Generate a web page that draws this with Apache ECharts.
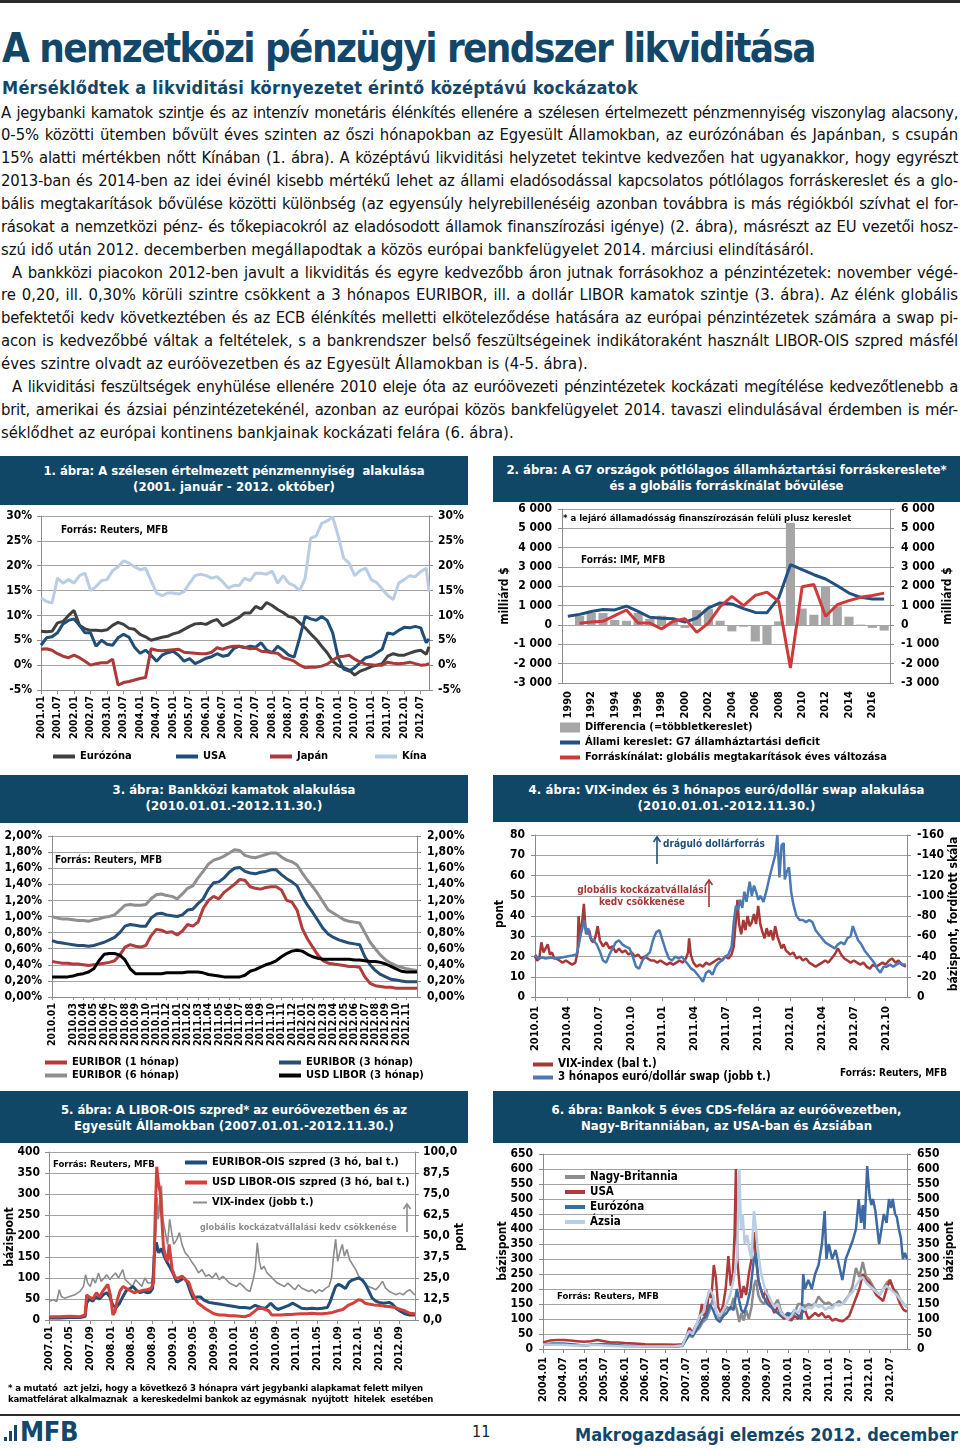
<!DOCTYPE html>
<html><head><meta charset="utf-8">
<script src="https://cdn.jsdelivr.net/npm/echarts@6/dist/echarts.min.js"></script>
<style>
html,body{margin:0;padding:0;background:#fff;}
#page{position:relative;width:960px;height:1450px;overflow:hidden;font-family:'DejaVu Sans Condensed','DejaVu Sans',sans-serif;color:#111;}
.rule{position:absolute;left:0;width:960px;background:#2b2b2b;}
.h1{position:absolute;left:2px;top:24px;font-size:40px;line-height:48px;font-weight:bold;color:#12476a;white-space:nowrap;}
.h2{position:absolute;left:2px;top:77px;font-size:18px;line-height:22px;font-weight:bold;color:#12476a;white-space:nowrap;}
#body{position:absolute;left:1px;top:101.5px;width:957px;}
.ln{height:22.86px;line-height:22.86px;font-size:16.5px;white-space:nowrap;}
.ln span{white-space:nowrap;}
.banner{position:absolute;background:#114766;color:#fff;font-weight:bold;font-size:13px;text-align:center;}
.banner div{line-height:16px;white-space:nowrap;}
.banner span{white-space:nowrap;}
.chart{position:absolute;}
.note{position:absolute;left:8px;font-size:9.5px;font-weight:bold;line-height:11px;white-space:nowrap;color:#000;}
.foot{position:absolute;white-space:nowrap;}
</style></head>
<body><div id="page">
<div class="rule" style="top:0;height:3px"></div>
<div class="h1"><span data-w="813">A nemzetközi pénzügyi rendszer likviditása</span></div>
<div class="h2"><span data-w="636">Mérséklődtek a likviditási környezetet érintő középtávú kockázatok</span></div>
<div id="body"></div>

<div class="banner" style="left:0;top:456px;width:468px;height:49px;padding-top:7px;box-sizing:border-box"><div><span data-w="381">1. ábra: A szélesen értelmezett pénzmennyiség&nbsp; alakulása</span></div><div><span data-w="202">(2001. január - 2012. október)</span></div></div>
<div class="banner" style="left:493px;top:456px;width:467px;height:46px;padding-top:6px;box-sizing:border-box"><div><span data-w="440">2. ábra: A G7 országok pótlólagos államháztartási forráskereslete*</span></div><div><span data-w="234">és a globális forráskínálat bővülése</span></div></div>
<div class="banner" style="left:0;top:775px;width:468px;height:48px;padding-top:7px;box-sizing:border-box"><div><span data-w="243">3. ábra: Bankközi kamatok alakulása</span></div><div><span data-w="177">(2010.01.01.-2012.11.30.)</span></div></div>
<div class="banner" style="left:493px;top:775px;width:467px;height:47px;padding-top:7px;box-sizing:border-box"><div><span data-w="396">4. ábra: VIX-index és 3 hónapos euró/dollár swap alakulása</span></div><div><span data-w="178">(2010.01.01.-2012.11.30.)</span></div></div>
<div class="banner" style="left:0;top:1091px;width:468px;height:52px;padding-top:11px;box-sizing:border-box"><div><span data-w="346">5. ábra: A LIBOR-OIS szpred* az euróövezetben és az</span></div><div><span data-w="320">Egyesült Államokban (2007.01.01.-2012.11.30.)</span></div></div>
<div class="banner" style="left:493px;top:1091px;width:467px;height:52px;padding-top:11px;box-sizing:border-box"><div><span data-w="350">6. ábra: Bankok 5 éves CDS-felára az euróövezetben,</span></div><div><span data-w="291">Nagy-Britanniában, az USA-ban és Ázsiában</span></div></div>

<div id="c1" class="chart" style="left:0;top:505px;width:470px;height:265px"></div>
<div id="c2" class="chart" style="left:490px;top:502px;width:470px;height:268px"></div>
<div id="c3" class="chart" style="left:0;top:823px;width:470px;height:262px"></div>
<div id="c4" class="chart" style="left:490px;top:822px;width:470px;height:263px"></div>
<div id="c5" class="chart" style="left:0;top:1143px;width:470px;height:240px"></div>
<div id="c6" class="chart" style="left:490px;top:1143px;width:470px;height:265px"></div>

<div class="note" style="top:1382px"><span data-w="415">* a mutató&nbsp; azt jelzi, hogy a következő 3 hónapra várt jegybanki alapkamat felett milyen</span></div>
<div class="note" style="top:1393px"><span data-w="425">kamatfelárat alkalmaznak&nbsp; a kereskedelmi bankok az egymásnak&nbsp; nyújtott&nbsp; hitelek&nbsp; esetében</span></div>

<div class="rule" style="top:1414px;height:2px"></div>
<div class="foot" style="left:4px;top:1437px;width:3px;height:4px;background:#12476a"></div>
<div class="foot" style="left:9px;top:1431px;width:3px;height:10px;background:#12476a"></div>
<div class="foot" style="left:14px;top:1425px;width:3px;height:16px;background:#12476a"></div>
<div class="foot" style="left:20px;top:1417px;font-size:27px;line-height:30px;font-weight:bold;color:#12476a"><span data-w="58">MFB</span></div>
<div class="foot" style="left:472px;top:1423px;font-size:16px;line-height:18px;color:#222">11</div>
<div class="foot" style="left:575px;top:1424px;font-size:18px;line-height:22px;font-weight:bold;color:#12476a"><span data-w="383">Makrogazdasági elemzés 2012. december</span></div>
</div>
<script>
// ---------------- body text ----------------
const BODY_LINES = [
 ["A jegybanki kamatok szintje és az intenzív monetáris élénkítés ellenére a szélesen értelmezett pénzmennyiség viszonylag alacsony,","j"],
 ["0-5% közötti ütemben bővült éves szinten az őszi hónapokban az Egyesült Államokban, az eurózónában és Japánban, s csupán","j"],
 ["15% alatti mértékben nőtt Kínában (1. ábra). A középtávú likviditási helyzetet tekintve kedvezően hat ugyanakkor, hogy egyrészt","j"],
 ["2013-ban és 2014-ben az idei évinél kisebb mértékű lehet az állami eladósodással kapcsolatos pótlólagos forráskereslet és a glo-","j"],
 ["bális megtakarítások bővülése közötti különbség (az egyensúly helyrebillenéséig azonban továbbra is más régiókból szívhat el for-","j"],
 ["rásokat a nemzetközi pénz- és tőkepiacokról az eladósodott államok finanszírozási igénye) (2. ábra), másrészt az EU vezetői hosz-","j"],
 ["szú idő után 2012. decemberben megállapodtak a közös európai bankfelügyelet 2014. márciusi elindításáról.","l"],
 ["A bankközi piacokon 2012-ben javult a likviditás és egyre kedvezőbb áron jutnak forrásokhoz a pénzintézetek: november végé-","ji"],
 ["re 0,20, ill. 0,30% körüli szintre csökkent a 3 hónapos EURIBOR, ill. a dollár LIBOR kamatok szintje (3. ábra). Az élénk globális","j"],
 ["befektetői kedv következtében és az ECB élénkítés melletti elköteleződése hatására az európai pénzintézetek számára a swap pi-","j"],
 ["acon is kedvezőbbé váltak a feltételek, s a bankrendszer belső feszültségeinek indikátoraként használt LIBOR-OIS szpred másfél","j"],
 ["éves szintre olvadt az euróövezetben és az Egyesült Államokban is (4-5. ábra).","l"],
 ["A likviditási feszültségek enyhülése ellenére 2010 eleje óta az euróövezeti pénzintézetek kockázati megítélése kedvezőtlenebb a","ji"],
 ["brit, amerikai és ázsiai pénzintézetekénél, azonban az európai közös bankfelügyelet 2014. tavaszi elindulásával érdemben is mér-","j"],
 ["séklődhet az európai kontinens bankjainak kockázati felára (6. ábra).","l"]
];
const bodyEl = document.getElementById('body');
BODY_LINES.forEach(([t,m])=>{
  const d=document.createElement('div'); d.className='ln';
  if(m==='ji') d.style.paddingLeft='11px';
  const s=document.createElement('span'); s.textContent=t; d.appendChild(s);
  d.dataset.mode=m; bodyEl.appendChild(d);
});
function fitText(){
  document.querySelectorAll('.ln').forEach(d=>{
    const s=d.firstChild; const m=d.dataset.mode;
    const width = 957 - (m==='ji'?11:0);
    s.style.letterSpacing='0px'; s.style.wordSpacing='0px';
    let w=s.getBoundingClientRect().width;
    if(w>width-20){ s.style.letterSpacing=((width-20-w)/s.textContent.length)+'px'; w=s.getBoundingClientRect().width; }
    if(m!=='l'){ const n=(s.textContent.match(/ /g)||[]).length; if(n) s.style.wordSpacing=((width-w)/n)+'px'; }
  });
  document.querySelectorAll('[data-w]').forEach(el=>{
    el.style.letterSpacing='0px';
    const w=el.getBoundingClientRect().width; const n=el.textContent.length;
    el.style.letterSpacing=((+el.dataset.w - w)/n)+'px';
  });
}
fitText();

// ---------------- common helpers ----------------
const F = "'DejaVu Sans Condensed','DejaVu Sans',sans-serif";
const GRC='#a3a3a3', AXC='#8c8c8c';
function merge(a,b){for(const k in b){const v=b[k]; if(v&&typeof v==='object'&&!Array.isArray(v)&&a[k]&&typeof a[k]==='object'&&!Array.isArray(a[k])) merge(a[k],v); else a[k]=v;} return a;}
function grid(l,t,w,h){return {left:l,top:t,width:w,height:h,outerBoundsMode:'none',containLabel:false};}
function yAx(o){return merge({type:'value',axisLine:{show:true,lineStyle:{color:AXC}},axisTick:{show:true,length:4,lineStyle:{color:AXC}},splitLine:{show:false,lineStyle:{color:GRC,width:1}},axisLabel:{color:'#000',fontFamily:F,fontWeight:'bold',fontSize:12}},o);}
function xAx(o){return merge({axisLine:{show:true,onZero:false,lineStyle:{color:AXC}},axisTick:{show:true,length:4,lineStyle:{color:AXC}},splitLine:{show:false},axisLabel:{rotate:90,color:'#000',fontFamily:F,fontWeight:'bold',fontSize:10.5,showMinLabel:true}},o);}
function ln(name,data,color,w,yi){return {type:'line',name,data,yAxisIndex:yi||0,symbol:'none',showSymbol:false,lineStyle:{color,width:w||3},itemStyle:{color},silent:true,z:3};}
function leg(name,left,top,o){o=o||{};return {data:[name],left,top,padding:0,itemGap:0,itemWidth:o.w||22,itemHeight:o.h||4,icon:'rect',selectedMode:false,textStyle:{color:'#000',fontFamily:F,fontWeight:'bold',fontSize:o.fs||11}};}
function txt(t,x,y,o){o=o||{};return {type:'text',x,y,z:10,rotation:o.rot||0,style:{text:t,fill:o.c||'#000',font:'bold '+(o.fs||10)+'px '+F,align:o.align||'left',verticalAlign:'middle',textAlign:o.align||'left',textVerticalAlign:'middle'}};}
function vname(t,x,y){return txt(t,x,y,{rot:Math.PI/2,align:'center',fs:12});}   // axis title reading bottom-to-top
function arrow(x,y1,y2,c){return [{type:'line',z:10,shape:{x1:x,y1:y1,x2:x,y2:y2+1},style:{stroke:c,lineWidth:1.6}},{type:'polyline',z:10,shape:{points:[[x-3.5,y2+5],[x,y2],[x+3.5,y2+5]]},style:{stroke:c,lineWidth:1.6,fill:null}}];}
function monthLabels(y,m,count){const a=[];for(let i=0;i<count;i++){a.push(y+'.'+String(m).padStart(2,'0'));m++;if(m>12){m=1;y++;}}return a;}
function init(id){return echarts.init(document.getElementById(id),null,{renderer:'canvas'});}
function pairs(xs,ys){return ys.map((v,i)=>[xs[i],v]);}

// ================= Chart 1: broad money growth (bi-monthly readings, %) =================
const C1_MONTHS = monthLabels(2001,1,142);            // 2001.01 .. 2012.10
const C1_SAMPLE_MONTH = [];                            // month index of each reading
for(let i=0;i<71;i++) C1_SAMPLE_MONTH.push(i*2); C1_SAMPLE_MONTH.push(141);
const EUROZONE_M = [6.8,6.7,6.8,8.5,8.8,10.0, 11.0,8.0,7.3,7.0,7.0,6.9, 7.1,8.0,8.6,8.2,7.4,7.2, 6.2,5.7,5.0,5.3,5.6,5.8, 6.3,6.6,7.2,7.8,8.3,8.4, 8.2,8.8,9.2,7.9,8.4,9.0, 9.6,10.5,10.5,11.8,11.3,12.6, 12.0,11.2,10.6,9.8,9.5,8.5, 7.5,6.3,5.2,3.8,2.5,0.8, -0.1,-0.5,-1.0,-2.0,-1.2,-0.8, -0.3,0.0,0.3,1.8,2.3,2.0, 2.0,2.4,2.8,3.0,2.2,3.7];
const USA_M = [4.0,5.5,5.7,6.5,8.3,9.0, 9.3,8.0,6.5,6.5,3.8,5.0, 4.2,4.0,5.5,6.2,5.6,3.6, 2.4,3.0,2.0,0.8,2.0,2.5, 2.8,2.0,0.8,1.3,0.3,0.8, 1.4,1.7,2.3,1.8,2.0,3.3, 3.8,3.5,3.8,3.6,4.5,3.0, 2.5,3.8,3.0,2.0,1.6,5.5, 9.8,9.3,9.0,9.8,9.0,6.5, 1.5,-0.8,-1.2,-0.5,0.5,1.5, 1.8,2.5,3.2,6.5,6.2,7.0, 7.6,7.5,7.8,7.5,4.5,5.3];
const JAPAN_M = [3.2,3.3,3.0,2.3,1.8,1.5, 2.0,1.5,0.8,0.0,0.3,0.5, 0.5,1.2,-4.0,-3.5,-3.3,-3.0, -2.7,-2.5,3.3,3.0,2.9,3.0, 3.1,3.2,2.6,2.5,2.4,2.3, 2.3,2.6,3.5,3.2,3.6,3.8, 3.8,3.6,3.3,3.4,2.8,2.7, 2.5,2.4,1.5,1.2,0.8,0.0, -0.5,-0.4,-0.4,-0.2,0.2,1.0, 1.7,1.8,2.0,1.2,0.6,0.2, 0.1,0.0,0.0,0.6,0.4,0.3, 0.4,0.6,0.3,0.0,0.1,0.3];
const CHINA_M = [13.5,12.8,12.5,17.5,16.5,17.2, 16.5,18.0,18.5,15.0,15.8,17.0, 17.2,19.0,19.8,21.0,20.5,19.8, 19.2,19.5,17.0,14.5,14.0,14.5, 14.5,14.3,14.8,16.5,18.0,18.3, 18.0,17.5,17.8,16.8,15.5,16.0, 16.0,17.5,17.0,18.5,18.5,18.3, 18.9,16.5,18.0,16.5,16.0,15.0, 17.5,25.5,26.0,28.5,29.0,29.8, 26.0,21.5,20.5,18.0,19.0,19.5, 17.2,16.6,15.3,14.0,13.2,16.5, 17.2,18.0,17.8,18.8,19.5,14.8];
const C1_TICKS = [-5,30,5];
{
 const pct=v=>v+'%';
 init('c1').setOption({animation:false,
  grid:grid(41,11,388,174),
  xAxis:xAx({type:'category',data:C1_MONTHS,boundaryGap:false,axisTick:{interval:5},axisLabel:{interval:5,margin:6}}),
  yAxis:[yAx({min:C1_TICKS[0],max:C1_TICKS[1],interval:C1_TICKS[2],splitLine:{show:true},axisLabel:{formatter:pct,margin:9}}),
         yAx({min:C1_TICKS[0],max:C1_TICKS[1],interval:C1_TICKS[2],position:'right',axisLabel:{formatter:pct,margin:9}})],
  legend:[leg('Eurózóna',53,246),leg('USA',176,246),leg('Japán',270,246),leg('Kína',375,246)],
  graphic:[txt('Forrás: Reuters, MFB',61,25)],
  series:[ln('Kína',pairs(C1_SAMPLE_MONTH,CHINA_M),'#b9cde5'),
          ln('Eurózóna',pairs(C1_SAMPLE_MONTH,EUROZONE_M),'#404040'),
          ln('USA',pairs(C1_SAMPLE_MONTH,USA_M),'#1f4e79'),
          ln('Japán',pairs(C1_SAMPLE_MONTH,JAPAN_M),'#a93a3a')]
 });
}

// ================= Chart 2: G7 deficit vs global savings (bn USD) =================
const YEARS2 = ['1990','1991','1992','1993','1994','1995','1996','1997','1998','1999','2000','2001','2002','2003','2004','2005','2006','2007','2008','2009','2010','2011','2012','2013','2014','2015','2016','2017'];
const DIFF2 = [null,480,620,620,260,220,620,310,480,190,-150,775,845,220,-330,-90,-850,-1000,190,5280,850,530,2000,970,430,20,-150,-290];
const DEMAND2 = [450,550,700,800,780,980,700,400,350,320,150,360,880,1140,1090,850,650,640,1400,3120,2860,2600,2380,2030,1650,1430,1340,1340];
const SUPPLY2 = [null,90,155,190,480,775,100,100,-200,190,330,-380,100,950,1480,1000,1530,1700,1220,-2220,1980,2090,450,1050,1260,1430,1530,1650];
{
 const th=v=>{const s=String(Math.abs(v));return (v<0?'-':'')+(s.length>3?s.slice(0,-3)+' '+s.slice(-3):s);};
 init('c2').setOption({animation:false,
  grid:grid(72,7,328,174),
  xAxis:xAx({type:'category',data:YEARS2,boundaryGap:true,axisTick:{show:false},axisLabel:{interval:1,margin:8,fontSize:11}}),
  yAxis:[yAx({min:-3000,max:6000,interval:1000,splitLine:{show:true},axisLabel:{formatter:th,margin:10}}),
         yAx({min:-3000,max:6000,interval:1000,position:'right',axisLabel:{formatter:th,margin:11}})],
  legend:[leg('Differencia (=többletkereslet)',70,220,{h:10,w:20,fs:11}),
          leg('Állami kereslet: G7 államháztartási deficit',70,235,{w:20,fs:11}),
          leg('Forráskínálat: globális megtakarítások éves változása',70,250,{w:20,fs:11})],
  graphic:[txt('* a lejáró államadósság finanszírozásán felüli plusz kereslet',73,17,{fs:9.5}),
           txt('Forrás: IMF, MFB',91,58), vname('milliárd $',15,94), vname('milliárd $',458,94)],
  series:[{type:'bar',name:'Differencia (=többletkereslet)',data:DIFF2,barCategoryGap:'22%',itemStyle:{color:'#a6a6a6'},silent:true},
          ln('Állami kereslet: G7 államháztartási deficit',DEMAND2,'#215081',3),
          ln('Forráskínálat: globális megtakarítások éves változása',SUPPLY2,'#d0393a',3)]
 });
}

// ================= Chart 3: interbank rates (half-monthly readings, %) =================
const C3_LABELS = monthLabels(2010,1,35);  // 2010.01 .. 2012.11
const C3_T = []; for(let k=0;k<=70;k++) C3_T.push(k/2);   // months since 2010.01
const EURIBOR_1M = [.44,.43,.42,.42,.41,.41,.40,.39,.40,.41, .42,.43,.45,.52,.62,.65,.63,.62,.64,.76, .84,.83,.80,.81,.77,.82,.90,.88,.93,1.10, 1.20,1.25,1.22,1.30,1.35,1.40,1.46,1.45,1.37,1.35, 1.34,1.36,1.37,1.37,1.33,1.20,1.18,1.08,.85,.72, .62,.52,.45,.42,.41,.40,.39,.38,.38,.37, .25,.17,.14,.13,.12,.12,.11,.11,.11,.11, .11];
const EURIBOR_3M = [.70,.68,.67,.66,.65,.64,.64,.63,.64,.66, .68,.71,.74,.80,.88,.90,.89,.88,.88,.98, 1.03,1.04,1.02,1.01,1.00,1.02,1.08,1.09,1.16,1.22, 1.34,1.42,1.43,1.48,1.55,1.60,1.61,1.56,1.54,1.53, 1.55,1.56,1.58,1.58,1.52,1.47,1.43,1.38,1.25,1.14, 1.05,.95,.85,.78,.74,.71,.69,.67,.66,.65, .50,.40,.33,.28,.25,.22,.21,.20,.19,.19, .19];
const EURIBOR_6M = [1.00,.98,.97,.97,.96,.95,.95,.94,.96,.97, .99,1.00,1.02,1.08,1.14,1.15,1.14,1.14,1.15,1.22, 1.27,1.28,1.26,1.25,1.22,1.28,1.35,1.38,1.48,1.56, 1.65,1.70,1.72,1.75,1.79,1.83,1.82,1.76,1.74,1.73, 1.75,1.77,1.79,1.79,1.74,1.70,1.68,1.64,1.54,1.45, 1.37,1.28,1.18,1.08,1.04,1.00,.96,.94,.93,.92, .80,.68,.60,.52,.46,.42,.39,.37,.35,.34, .33];
const USD_LIBOR_3M = [.25,.25,.25,.25,.26,.28,.29,.31,.35,.45, .53,.54,.54,.52,.46,.35,.29,.29,.29,.29, .29,.29,.30,.30,.30,.30,.31,.31,.31,.30, .28,.27,.26,.25,.25,.25,.25,.27,.32,.34, .37,.40,.42,.45,.50,.54,.57,.58,.57,.53, .50,.48,.47,.47,.47,.47,.47,.47,.46,.46, .45,.44,.44,.43,.41,.38,.35,.32,.31,.31, .31];
{
 const pf=v=>v.toFixed(2).replace('.',',')+'%';
 init('c3').setOption({animation:false,
  grid:grid(52,13,365,161),
  xAxis:xAx({type:'value',min:0,max:35,interval:1,axisTick:{length:3},axisLabel:{formatter:v=>C3_LABELS[v]||'',margin:6,showMaxLabel:false}}),
  yAxis:[yAx({min:0,max:2,interval:0.2,splitLine:{show:true},axisLabel:{formatter:pf,margin:10}}),
         yAx({min:0,max:2,interval:0.2,position:'right',axisLabel:{formatter:pf,margin:10}})],
  legend:[leg('EURIBOR (1 hónap)',45,234),leg('EURIBOR (6 hónap)',45,247),leg('EURIBOR (3 hónap)',279,234),leg('USD LIBOR (3 hónap)',279,247)],
  graphic:[txt('Forrás: Reuters, MFB',55,37)],
  series:[ln('EURIBOR (6 hónap)',pairs(C3_T,EURIBOR_6M),'#8f8f8f'),
          ln('EURIBOR (3 hónap)',pairs(C3_T,EURIBOR_3M),'#254e78'),
          ln('EURIBOR (1 hónap)',pairs(C3_T,EURIBOR_1M),'#b03c3c'),
          ln('USD LIBOR (3 hónap)',pairs(C3_T,USD_LIBOR_3M),'#000000')]
 });
}

// ================= Chart 4: VIX and 3M EUR/USD swap (t = months since 2010.01) =================
const C4_LABELS = ['2010.01','2010.04','2010.07','2010.10','2011.01','2011.04','2011.07','2011.10','2012.01','2012.04','2012.07','2012.10'];
const VIX4 = [[0,20],[0.2,18],[0.4,19],[0.6,27],[0.8,22],[1,24],[1.2,26],[1.4,21],[1.6,22],[1.8,19],[2,19],[2.3,18],[2.6,17],[2.9,18],[3.2,17],[3.5,16],[3.8,17],[4,22],[4.1,40],[4.25,30],[4.4,35],[4.6,46],[4.75,34],[4.9,31],[5.1,33],[5.3,28],[5.5,27],[5.7,30],[5.9,35],[6.1,28],[6.4,25],[6.7,27],[7,24],[7.3,25],[7.6,22],[7.9,24],[8.2,22],[8.5,23],[8.8,21],[9.1,22],[9.4,20],[9.7,21],[10,19],[10.3,20],[10.6,19],[10.9,18],[11.2,18],[11.5,17],[11.8,18],[12.1,17],[12.4,16],[12.7,17],[13,16],[13.3,17],[13.6,18],[13.9,17],[14.2,19],[14.4,22],[14.5,29],[14.65,21],[14.9,17],[15.2,15],[15.5,16],[15.8,15],[16.1,17],[16.4,16],[16.7,17],[17,18],[17.3,19],[17.6,18],[17.9,20],[18.2,19],[18.5,21],[18.7,25],[18.9,38],[19.05,48],[19.2,36],[19.4,31],[19.6,38],[19.8,33],[20,40],[20.2,35],[20.4,37],[20.6,41],[20.8,36],[21,45],[21.2,36],[21.4,32],[21.6,29],[21.8,34],[22,30],[22.2,33],[22.4,28],[22.6,35],[22.8,30],[23,27],[23.2,24],[23.4,26],[23.6,23],[23.8,22],[24,21],[24.3,22],[24.6,19],[24.9,20],[25.2,18],[25.5,19],[25.8,17],[26.1,16],[26.4,15],[26.7,16],[27,17],[27.3,18],[27.6,17],[27.9,19],[28.2,21],[28.5,24],[28.8,21],[29.1,19],[29.4,18],[29.7,17],[30,18],[30.3,17],[30.6,16],[30.9,17],[31.2,15],[31.5,14],[31.8,16],[32.1,15],[32.4,16],[32.7,17],[33,16],[33.3,18],[33.6,19],[33.9,17],[34.2,18],[34.5,16],[34.9,15]];
const SWAP4 = [[0,-42],[0.3,-38],[0.7,-39],[1,-38],[1.5,-39],[2,-38],[2.5,-39],[3,-40],[3.5,-41],[3.9,-42],[4.1,-50],[4.3,-62],[4.5,-70],[4.65,-76],[4.8,-62],[5,-68],[5.2,-58],[5.5,-56],[5.8,-52],[6.1,-45],[6.4,-36],[6.7,-34],[7,-42],[7.3,-48],[7.6,-54],[7.9,-56],[8.2,-52],[8.5,-50],[8.9,-48],[9.2,-40],[9.5,-30],[9.8,-28],[10.1,-36],[10.4,-40],[10.8,-44],[11.1,-56],[11.4,-64],[11.7,-66],[12,-56],[12.3,-46],[12.6,-38],[12.9,-36],[13.2,-40],[13.5,-38],[13.8,-40],[14.1,-36],[14.4,-32],[14.7,-28],[15,-26],[15.3,-22],[15.6,-18],[15.8,-15],[16.1,-24],[16.4,-26],[16.7,-22],[17,-30],[17.3,-34],[17.6,-36],[17.9,-40],[18.2,-42],[18.5,-50],[18.7,-74],[18.9,-90],[19.1,-86],[19.3,-96],[19.5,-88],[19.7,-104],[19.9,-94],[20.2,-114],[20.4,-100],[20.6,-110],[20.8,-104],[21,-96],[21.2,-100],[21.5,-94],[21.8,-106],[22.1,-120],[22.4,-132],[22.6,-140],[22.8,-160],[23,-118],[23.2,-150],[23.4,-152],[23.5,-116],[23.7,-124],[23.9,-128],[24.1,-104],[24.3,-92],[24.6,-80],[24.9,-76],[25.2,-76],[25.5,-74],[25.8,-76],[26.1,-74],[26.4,-66],[26.7,-62],[27,-58],[27.3,-54],[27.6,-52],[27.9,-50],[28.2,-48],[28.5,-52],[28.8,-54],[29.1,-52],[29.4,-58],[29.7,-60],[29.9,-70],[30.1,-64],[30.4,-56],[30.7,-52],[31,-46],[31.3,-42],[31.6,-38],[31.9,-34],[32.2,-28],[32.5,-24],[32.8,-30],[33.1,-30],[33.4,-32],[33.7,-30],[34,-32],[34.3,-34],[34.6,-32],[34.9,-32]];
{
 init('c4').setOption({animation:false,
  grid:grid(45,13,372,162),
  xAxis:xAx({type:'value',min:0,max:35,interval:3,axisLabel:{formatter:v=>C4_LABELS[v/3]||'',margin:9,fontSize:11,showMaxLabel:false}}),
  yAxis:[yAx({min:0,max:80,interval:10,splitLine:{show:true},axisLabel:{margin:10}}),
         yAx({min:-160,max:0,interval:20,inverse:true,position:'right',axisLabel:{margin:10}})],
  legend:[leg('VIX-index (bal t.)',43,236.5,{w:20,fs:11.5}),leg('3 hónapos euró/dollár swap (jobb t.)',43,249.5,{w:20,fs:11.5})],
  graphic:[txt('Forrás: Reuters, MFB',350,251),
           vname('pont',10,92), vname('bázispont, fordított skála',464,92),
           txt('dráguló dollárforrás',173,22,{c:'#1f4e79'}),...arrow(167,42,15,'#1f4e79'),
           txt('globális kockázatvállalási',152,68,{c:'#a83838',align:'center'}),txt('kedv csökkenése',152,80,{c:'#a83838',align:'center'}),...arrow(219,85,58,'#a83838')],
  series:[ln('VIX-index (bal t.)',VIX4,'#a83838',2.5),
          ln('3 hónapos euró/dollár swap (jobb t.)',SWAP4,'#4a79b4',2.5,1)]
 });
}

// ================= Chart 5: LIBOR-OIS spreads (t = months since 2007.01) =================
const C5_LABELS = ['2007.01','2007.05','2007.09','2008.01','2008.05','2008.09','2009.01','2009.05','2009.09','2010.01','2010.05','2010.09','2011.01','2011.05','2011.09','2012.01','2012.05','2012.09'];
const EUR_OIS5 = [[0,5],[2,5],[4,6],[6,6],[7,8],[7.3,40],[7.8,50],[8.5,45],[9,55],[9.8,50],[10.5,60],[11.2,65],[11.8,55],[12.4,35],[13,30],[13.7,40],[14.3,55],[15,70],[15.7,75],[16.3,80],[17,70],[17.7,65],[18.3,68],[19,65],[19.6,66],[20.1,75],[20.4,150],[20.8,185],[21.3,160],[21.8,170],[22.4,150],[23,135],[23.5,125],[24.1,110],[24.8,90],[25.5,95],[26.2,100],[26.8,90],[27.5,65],[28,50],[28.6,55],[29.4,55],[30,48],[31,42],[32,40],[33,38],[34,36],[35,34],[36,32],[37,30],[38,30],[39,28],[40,35],[41,30],[42,28],[43,40],[43.8,30],[44.4,25],[45.5,30],[46.5,35],[47.3,40],[48,35],[49,28],[50,27],[51,28],[52,27],[53,28],[54,30],[54.6,45],[55,60],[55.6,80],[56.2,85],[56.9,80],[57.5,75],[58.2,90],[58.8,95],[59.5,98],[60.1,100],[60.8,95],[61.4,85],[62,70],[62.7,52],[63.4,45],[64,42],[65,40],[66,42],[66.6,38],[67.3,28],[68,22],[69,15],[70,12],[71,12]];
const USD_OIS5 = [[0,8],[2,8],[4,9],[6,8],[7,12],[7.3,60],[7.8,55],[8.5,50],[9.2,65],[9.8,55],[10.5,70],[11.4,85],[11.9,60],[12.4,12],[12.8,20],[13.3,50],[13.8,70],[14.4,80],[15,75],[15.8,70],[16.5,65],[17.3,68],[18,70],[19,72],[19.8,75],[20.3,90],[20.6,250],[20.9,365],[21.2,330],[21.6,300],[22.2,175],[22.6,150],[23,140],[23.3,180],[23.9,120],[24.5,100],[25.2,100],[25.8,105],[26.5,95],[27.1,90],[27.8,65],[28.4,50],[28.9,40],[29.5,35],[30.2,28],[31,22],[32,15],[33,12],[34,12],[35,10],[36,10],[37,9],[38,8],[39,12],[39.8,20],[40.5,27],[41.3,28],[42,25],[42.6,22],[43.2,12],[44,12],[45,12],[46,13],[47,13],[48,14],[49,15],[50,15],[51,16],[52,15],[53,15],[54,16],[55,18],[56,22],[57,25],[58,35],[59,40],[60,48],[60.6,47],[61.3,40],[62,38],[63,36],[64,35],[65,33],[66,32],[67,30],[68,26],[69,22],[70,16],[71,15]];
const VIX5 = [[0,11],[0.8,12],[1.5,11],[2,18],[2.4,14],[3,13],[4,14],[5,15],[6,17],[6.7,20],[7.1,27],[7.5,22],[8,20],[8.5,25],[9,22],[9.6,28],[10.1,23],[10.7,25],[11.2,27],[11.8,24],[12.3,26],[12.9,28],[13.5,25],[14.3,30],[14.8,24],[15.5,22],[16.2,20],[16.8,24],[17.4,22],[18,20],[18.6,25],[19.2,22],[19.8,22],[20.2,26],[20.5,40],[20.8,55],[21,73],[21.2,60],[21.5,70],[21.8,80],[22.1,60],[22.4,55],[22.7,50],[23,45],[23.4,60],[23.8,52],[24.2,45],[24.8,48],[25.3,52],[25.8,45],[26.4,40],[27,38],[27.6,35],[28.3,32],[29,28],[29.7,30],[30.4,26],[31,27],[31.7,25],[32.4,28],[33,24],[33.7,26],[34.4,24],[35,22],[35.7,21],[36.4,20],[37,22],[37.7,20],[38.3,18],[39,17],[39.6,24],[40,30],[40.4,46],[40.8,35],[41.2,30],[41.7,32],[42.3,28],[43,26],[43.6,24],[44.3,22],[45,21],[45.7,20],[46.3,22],[47,20],[47.7,18],[48.4,21],[49,19],[49.7,18],[50.4,17],[51,18],[51.7,16],[52.4,18],[53,17],[53.7,19],[54.3,20],[54.8,25],[55.2,38],[55.6,48],[56,35],[56.4,40],[56.9,45],[57.3,38],[57.8,42],[58.3,36],[58.9,33],[59.5,30],[60.1,26],[60.7,24],[61.4,21],[62,20],[62.7,19],[63.4,18],[64,20],[64.7,23],[65.3,19],[66,17],[66.7,16],[67.3,15],[68,16],[68.7,15],[69.4,17],[70,18],[70.6,16],[71,15]];
{
 init('c5').setOption({animation:false,
  grid:grid(49,9,366,168),
  xAxis:xAx({type:'value',min:0,max:71,interval:4,axisLabel:{formatter:v=>C5_LABELS[v/4]||'',margin:6,fontSize:11,showMaxLabel:false}}),
  yAxis:[yAx({min:0,max:400,interval:50,splitLine:{show:true},axisLabel:{margin:9}}),
         yAx({min:0,max:100,interval:12.5,position:'right',axisLabel:{formatter:v=>v.toFixed(1).replace('.',','),margin:8}})],
  legend:[leg('EURIBOR-OIS szpred (3 hó, bal t.)',185,14,{fs:11}),leg('USD LIBOR-OIS szpred (3 hó, bal t.)',185,34,{fs:11}),leg('VIX-index (jobb t.)',193,54,{h:2,w:14,fs:11})],
  graphic:[txt('Forrás: Reuters, MFB',53,22,{fs:9.5}),
           vname('bázispont',10,94), vname('pont',460,94),
           txt('globális kockázatvállalási kedv csökkenése',200,85,{c:'#8c8c8c',fs:9}),...arrow(407,89,61,'#8c8c8c')],
  series:[ln('VIX-index (jobb t.)',VIX5,'#8c8c8c',1.6,1),
          ln('EURIBOR-OIS szpred (3 hó, bal t.)',EUR_OIS5,'#1f4e79',3),
          ln('USD LIBOR-OIS szpred (3 hó, bal t.)',USD_OIS5,'#d6403a',3)]
 });
}

// ================= Chart 6: bank 5y CDS spreads (t = months since 2004.01) =================
const C6_LABELS = ['2004.01','2004.07','2005.01','2005.07','2006.01','2006.07','2007.01','2007.07','2008.01','2008.07','2009.01','2009.07','2010.01','2010.07','2011.01','2011.07','2012.01','2012.07'];
const USA6 = [[0,22],[2,28],[4,30],[6,30],[8,28],[10,26],[12,24],[14,26],[16,30],[18,26],[20,22],[22,22],[24,20],[27,18],[30,16],[33,15],[36,15],[39,14],[41,16],[42,35],[43,70],[44,55],[45,80],[46,100],[46.7,150],[47.3,110],[48,120],[48.8,190],[49.5,170],[50.2,280],[50.8,240],[51.5,140],[52.3,120],[53,150],[53.7,200],[54.5,310],[55.2,210],[55.8,250],[56.3,380],[56.7,600],[57.1,300],[57.7,220],[58.3,170],[59,210],[59.7,180],[60.5,250],[61.3,300],[62,390],[62.6,300],[63.3,230],[64,200],[64.8,170],[65.5,200],[66.3,160],[67,150],[68,120],[69,140],[70,110],[71,100],[72,120],[73,95],[74,110],[75,100],[76,120],[77,130],[78,100],[79,110],[80,120],[81,110],[82,120],[83,105],[84,110],[85,95],[86,100],[87,95],[88,92],[89,100],[90,110],[91,140],[92,170],[93,200],[94,250],[95,230],[96,220],[97,200],[98,180],[99,170],[100,160],[101,200],[102,230],[103,200],[104,180],[105,150],[106,130],[107,125]];
const GB6 = [[0,15],[3,17],[6,16],[9,14],[12,12],[15,15],[18,15],[21,13],[24,10],[27,10],[30,9],[33,9],[36,10],[39,10],[41,12],[42,30],[43,45],[44,40],[45,60],[46,70],[47,90],[48,100],[49,130],[50,170],[51,120],[52,100],[53,120],[54,140],[55,130],[56,170],[57,130],[57.7,90],[58.3,120],[59,95],[59.7,130],[60.5,100],[61.3,140],[62,210],[62.6,230],[63.3,180],[64,160],[65,150],[66,175],[67,150],[68,145],[69,165],[70,125],[71,110],[72,100],[73,95],[74,120],[75,150],[76,150],[77,140],[78,150],[79,145],[80,150],[81,175],[82,160],[83,150],[84,155],[85,145],[86,150],[87,160],[88,150],[89,165],[90,180],[91,210],[92,270],[93,240],[94,290],[95,240],[96,230],[97,210],[98,190],[99,180],[100,200],[101,220],[102,230],[103,200],[104,190],[105,165],[106,150],[107,140]];
const EZ6 = [[0,15],[3,18],[6,18],[9,15],[12,12],[15,15],[18,16],[21,13],[24,10],[27,10],[30,9],[33,8],[36,8],[39,8],[41,10],[42,30],[43,50],[44,45],[45,60],[46,80],[47,100],[48,110],[49,150],[50,130],[51,100],[52,90],[53,110],[54,120],[55,140],[56,130],[57,200],[57.7,160],[58.3,130],[59,120],[60,150],[61,200],[62,300],[62.6,320],[63.3,230],[64,200],[65,170],[66,150],[67,140],[68,130],[69,120],[70,110],[71,110],[72,120],[73,115],[74,130],[75,110],[76,100],[76.5,250],[77,200],[78,230],[79,200],[80,250],[81,280],[82,350],[82.8,460],[83.3,300],[84,350],[85,300],[86,330],[87,280],[88,230],[89,300],[90,330],[91,360],[92,400],[92.8,500],[93.5,420],[94,480],[94.5,400],[95.3,610],[96,510],[96.5,480],[97,500],[97.7,460],[98.3,400],[98.8,350],[99.5,400],[100.2,450],[101,420],[101.7,500],[102.3,470],[102.8,500],[103.5,450],[104,440],[104.6,400],[105.2,370],[105.8,300],[106.4,320],[107,300]];
const ASIA6 = [[0,15],[3,14],[6,14],[9,12],[12,12],[15,14],[18,12],[21,10],[24,8],[27,8],[30,8],[33,8],[36,8],[39,9],[41,12],[42,40],[43,60],[44,50],[45,80],[46,110],[47,120],[48,160],[49,200],[50,180],[51,120],[52,110],[53,130],[54,150],[55,180],[56,230],[57,300],[57.7,600],[58.2,400],[58.7,450],[59.3,350],[60,380],[60.7,330],[61.3,300],[62,460],[62.6,400],[63.3,320],[64,260],[64.8,220],[65.5,190],[66.3,180],[67,160],[68,140],[69,150],[70,120],[71,110],[72,100],[73,110],[74,130],[75,120],[76,140],[77,130],[78,140],[79,135],[80,150],[81,140],[82,145],[83,130],[84,140],[85,135],[86,150],[87,145],[88,150],[89,160],[90,180],[91,190],[92,210],[93,230],[94,240],[95,220],[96,210],[97,200],[98,190],[99,180],[100,200],[101,210],[102,200],[103,190],[104,180],[105,165],[106,150],[107,140]];
{
 init('c6').setOption({animation:false,
  grid:grid(53,11,364,195),
  xAxis:xAx({type:'value',min:0,max:107,interval:6,axisLabel:{formatter:v=>C6_LABELS[v/6]||'',margin:8,fontSize:11,showMaxLabel:false}}),
  yAxis:[yAx({min:0,max:650,interval:50,splitLine:{show:true},axisLabel:{margin:10}}),
         yAx({min:0,max:650,interval:50,position:'right',axisLabel:{margin:10}})],
  legend:[leg('Nagy-Britannia',75,28,{w:20,fs:11.5}),leg('USA',75,43,{w:20,fs:11.5}),leg('Eurózóna',75,58,{w:20,fs:11.5}),leg('Ázsia',75,73,{w:20,fs:11.5})],
  graphic:[txt('Forrás: Reuters, MFB',67,154,{fs:9.5}), vname('bázispont',13,108), vname('bázispont',460,108)],
  series:[ln('Nagy-Britannia',GB6,'#8c8c8c',2.5),
          ln('USA',USA6,'#b03a3a',2.5),
          ln('Eurózóna',EZ6,'#3d6aa3',2.5),
          ln('Ázsia',ASIA6,'#b9cde5',2.5)]
 });
}
</script>
</body></html>
